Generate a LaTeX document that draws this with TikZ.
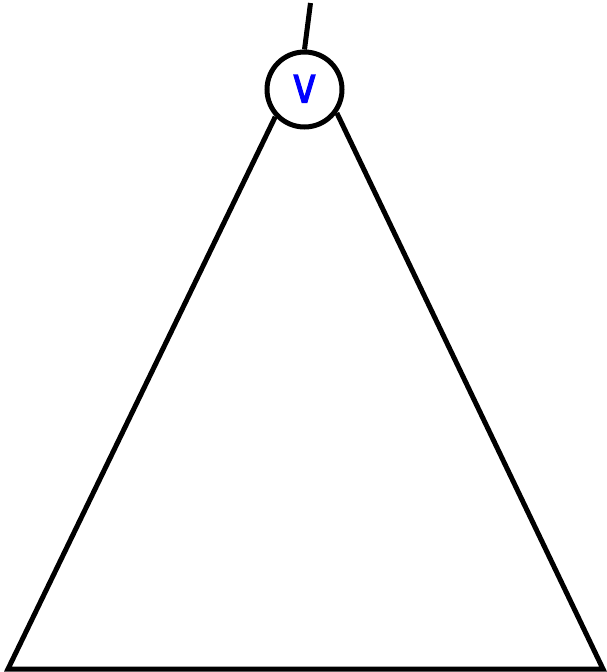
\documentclass[tikz,border=0pt]{standalone}
\usepackage{fontspec}
\newfontfamily\vfont[FakeBold=2.5]{DejaVu Sans}
\begin{document}
\begin{tikzpicture}[x=1pt,y=-1pt,line width=5pt,
  vertex/.style={circle,draw,fill=white,minimum size=75pt,inner sep=0pt,
    font=\vfont\fontsize{50}{50}\selectfont,text=blue},
  edge/.style={draw,line join=miter}]
\useasboundingbox (0,0) rectangle (607,672);
\node[vertex] (v) at (304.5,89.5) {\raisebox{1.5pt}{\scalebox{0.8}[1]{v}}};
\coordinate (top) at (310.5,3);
\coordinate (bl) at (8,669);
\coordinate (br) at (603,669);
\draw[edge] (v.north) -- (top);
\draw[edge] (v.223) -- (bl) -- (br) -- (v.-36);
\end{tikzpicture}
\end{document}
